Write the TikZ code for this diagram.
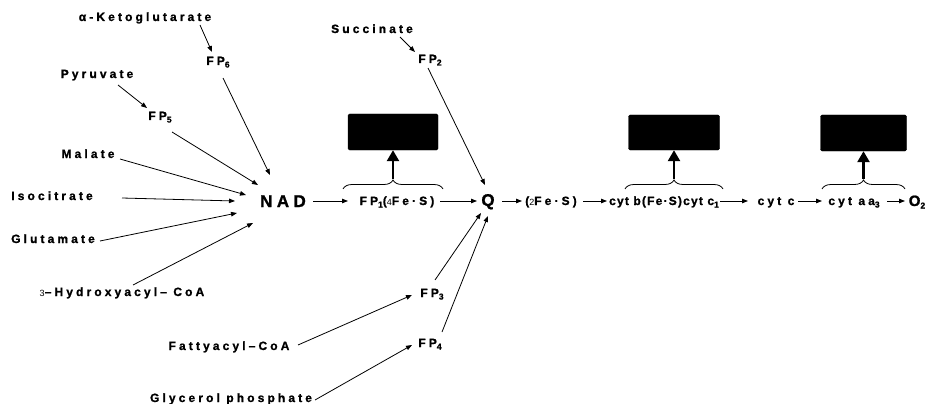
\documentclass[tikz,border=0pt]{standalone}
\usepackage{fontspec}
\newfontfamily\lab{Liberation Sans Bold}[LetterSpace=26, FakeBold=1.2]
\newfontfamily\labt{Liberation Sans Bold}[LetterSpace=10, FakeBold=1.2]
\newfontfamily\labr{Liberation Sans}
\usetikzlibrary{arrows.meta,decorations.pathreplacing}
\newcommand\sbs[1]{\raisebox{-2.5pt}{\fontsize{8.5}{9}\selectfont #1}}
\newcommand\sml[1]{{\labr\fontsize{9}{9}\selectfont #1}}
\begin{document}
\begin{tikzpicture}[x=1pt,y=-1pt,
  lbl/.style={font=\lab\fontsize{12}{14}\selectfont, inner sep=1pt, anchor=base},
  lblt/.style={font=\labt\fontsize{12}{14}\selectfont, inner sep=1pt, anchor=base},
  big/.style={font=\lab\fontsize{17}{19}\selectfont, inner sep=1pt, anchor=base},
  bigo/.style={font=\labt\fontsize{15}{17}\selectfont, inner sep=1pt, anchor=base},
  arr/.style={-{Triangle[length=6pt,width=4.5pt]}, line width=0.8pt},
  thk/.style={-{Triangle[length=11pt,width=12pt]}, line width=2.5pt},
  brc/.style={decorate, decoration={brace, amplitude=9pt}, line width=0.8pt},
  atp/.style={fill=black, draw=black, rounded corners=1.5pt, inner sep=0pt}]
\useasboundingbox (0,0) rectangle (930,404);

% substrates and flavoproteins
\node[lbl] (akg) at (145,21) {α-Ketoglutarate};
\node[lbl] (fp6) at (218,65) {FP\sbs{6}};
\node[lbl] (pyr) at (97,78) {Pyruvate};
\node[lbl] (fp5) at (160,120) {FP\sbs{5}};
\node[lbl] (mal) at (88,158) {Malate};
\node[lbl] (iso) at (52,200) {Isocitrate};
\node[lbl] (glu) at (53,243) {Glutamate};
\node[lbl] (hya) at (122,296) {\sml{3}–Hydroxyacyl– CoA};
\node[lbl] (fat) at (229,350) {Fattyacyl–CoA};
\node[lbl] (gly) at (231,402) {Glycerol phosphate};
\node[lbl] (suc) at (372,33) {Succinate};
\node[lbl] (fp2) at (430,63) {FP\sbs{2}};
\node[lbl] (fp3) at (432,297) {FP\sbs{3}};
\node[lbl] (fp4) at (430,347) {FP\sbs{4}};

% main chain
\node[big] (nad) at (283,207) {NAD};
\node[lbl] (fp1) at (397,205) {FP\sbs{1}(\sml{4}Fe·S)};
\node[big] (q) at (488,206) {Q};
\node[lbl] (fes2) at (551,205) {(\sml{2}Fe·S)};
\node[lblt] (cytb) at (664,205) {cyt b(Fe·S)cyt c\sbs{1}};
\node[lbl] (cytc) at (776,205) {cyt c};
\node[lbl] (cytaa) at (854,205) {cyt aa\sbs{3}};
\node[bigo] (o2) at (917,206) {O\sbs{2}};

% black boxes
\node[atp, minimum width=90pt, minimum height=36pt] (atp1) at (393,132) {};
\node[atp, minimum width=91pt, minimum height=35pt] (atp2) at (674,132.5) {};
\node[atp, minimum width=86pt, minimum height=36pt] (atp3) at (863.5,133) {};

% arrows into FPs
\draw[arr] ([shift={(55,4)}]akg.base) -- ([shift={(-6,-13)}]fp6.base);
\draw[arr] ([shift={(21,7)}]pyr.base) -- ([shift={(-13,-12)}]fp5.base);
\draw[arr] ([shift={(28,4)}]suc.base) -- ([shift={(-15,-11)}]fp2.base);
\draw[arr] ([shift={(69,-5)}]fat.base) -- ([shift={(-20,-2)}]fp3.base);
\draw[arr] ([shift={(84,-2)}]gly.base) -- ([shift={(-18,-2)}]fp4.base);

% arrows into NAD
\draw[arr] ([shift={(5,13)}]fp6.base) -- ([shift={(-13,-32)}]nad.base);
\draw[arr] ([shift={(12,12)}]fp5.base) -- ([shift={(-25,-22)}]nad.base);
\draw[arr] ([shift={(32,1)}]mal.base) -- ([shift={(-37,-12)}]nad.base);
\draw[arr] ([shift={(70,-2)}]iso.base) -- ([shift={(-48,-6)}]nad.base);
\draw[arr] ([shift={(47,-2)}]glu.base) -- ([shift={(-46,6)}]nad.base);
\draw[arr] ([shift={(11,-11)}]hya.base) -- ([shift={(-30,16)}]nad.base);

% arrows into Q
\draw[arr] ([shift={(-2,5)}]fp2.base) -- ([shift={(-3,-21)}]q.base);
\draw[arr] ([shift={(3,-17)}]fp3.base) -- ([shift={(-7,7)}]q.base);
\draw[arr] ([shift={(12,-15)}]fp4.base) -- ([shift={(0,10)}]q.base);

% main chain arrows
\draw[arr] ([shift={(30,-6)}]nad.base) -- ([shift={(-49,-4)}]fp1.base);
\draw[arr] ([shift={(43,-4)}]fp1.base) -- ([shift={(-11,-5)}]q.base);
\draw[arr] ([shift={(14,-5)}]q.base) -- ([shift={(-29,-4)}]fes2.base);
\draw[arr] ([shift={(32,-4)}]fes2.base) -- ([shift={(-57,-4)}]cytb.base);
\draw[arr] ([shift={(56,-4)}]cytb.base) -- ([shift={(-28,-4)}]cytc.base);
\draw[arr] ([shift={(22,-4)}]cytc.base) -- ([shift={(-32,-4)}]cytaa.base);
\draw[arr] ([shift={(33,-4)}]cytaa.base) -- ([shift={(-12,-5)}]o2.base);

% braces and thick arrows
\draw[brc] ([shift={(-54,-16)}]fp1.base) -- ([shift={(46,-16)}]fp1.base);
\draw[brc] ([shift={(-39,-16)}]cytb.base) -- ([shift={(59,-16)}]cytb.base);
\draw[brc] ([shift={(-32,-16)}]cytaa.base) -- ([shift={(51,-16)}]cytaa.base);
\coordinate (c1) at ([shift={(-4,-26)}]fp1.base);
\coordinate (c2) at ([shift={(10,-26)}]cytb.base);
\coordinate (c3) at ([shift={(9.5,-26)}]cytaa.base);
\draw[thk] (c1) -- (c1 |- atp1.south);
\draw[thk] (c2) -- (c2 |- atp2.south);
\draw[thk] (c3) -- (c3 |- atp3.south);
\end{tikzpicture}
\end{document}
